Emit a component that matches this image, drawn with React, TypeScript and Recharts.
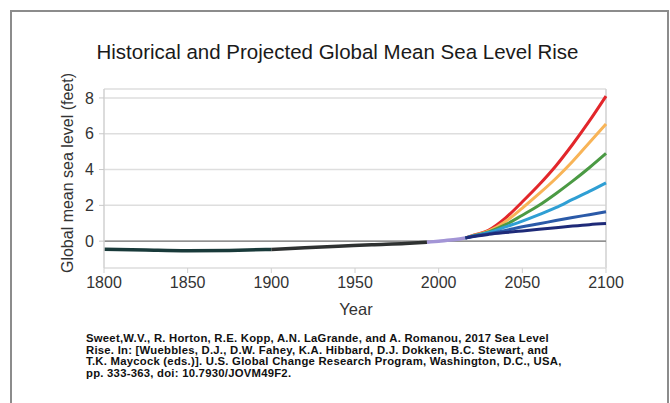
import { LineChart, Line, XAxis, YAxis, CartesianGrid, ReferenceLine } from "recharts"

// observed record, two shades as in the source figure
const earlyYears = [1800, 1825, 1850, 1875, 1900]
const earlyLevel = [-0.45, -0.5, -0.54, -0.52, -0.46]
const histYears = [1900, 1920, 1940, 1960, 1980, 1993]
const histLevel = [-0.46, -0.37, -0.29, -0.2, -0.13, -0.06]
const recentYears = [1993, 2000, 2010, 2016]
const recentLevel = [-0.06, 0.0, 0.09, 0.18]

// scenario projections (feet)
const projYears = [2016, 2020, 2030, 2040, 2050, 2060, 2070, 2080, 2090, 2100]
const extreme = [0.18, 0.3, 0.62, 1.3, 2.2, 3.15, 4.2, 5.4, 6.7, 8.1]
const high = [0.18, 0.29, 0.57, 1.1, 1.85, 2.65, 3.5, 4.45, 5.5, 6.55]
const intHigh = [0.18, 0.28, 0.52, 0.92, 1.45, 2.0, 2.65, 3.35, 4.1, 4.9]
const intermediate = [0.18, 0.27, 0.48, 0.8, 1.12, 1.48, 1.87, 2.33, 2.78, 3.26]
const intLow = [0.18, 0.26, 0.42, 0.6, 0.8, 0.97, 1.15, 1.32, 1.48, 1.64]
const low = [0.18, 0.25, 0.38, 0.48, 0.57, 0.66, 0.75, 0.84, 0.92, 0.98]

const xTicks = [1800, 1850, 1900, 1950, 2000, 2050, 2100]
const yTicks = [0, 2, 4, 6, 8]

const series = [
  { key: "early", years: earlyYears, values: earlyLevel, color: "#193a3a", width: 3.5 },
  { key: "hist", years: histYears, values: histLevel, color: "#2e3131", width: 3.5 },
  { key: "recent", years: recentYears, values: recentLevel, color: "#a395d6", width: 3.5 },
  { key: "extreme", years: projYears, values: extreme, color: "#e2262b", width: 3 },
  { key: "high", years: projYears, values: high, color: "#f8b457", width: 3 },
  { key: "intHigh", years: projYears, values: intHigh, color: "#4b9a44", width: 3 },
  { key: "intermediate", years: projYears, values: intermediate, color: "#2f9fd4", width: 3 },
  { key: "intLow", years: projYears, values: intLow, color: "#2b5aa8", width: 3 },
  { key: "low", years: projYears, values: low, color: "#1e2a78", width: 3 },
]

const rowsByYear = new Map<number, Record<string, number>>()
for (const s of series) {
  s.years.forEach((yr, i) => {
    const row = rowsByYear.get(yr) ?? { year: yr }
    row[s.key] = s.values[i]
    rowsByYear.set(yr, row)
  })
}
const chartData = [...rowsByYear.values()].sort((a, b) => a.year - b.year)

const citation = [
  "Sweet,W.V., R. Horton, R.E. Kopp, A.N. LaGrande, and A. Romanou, 2017 Sea Level",
  "Rise. In: [Wuebbles, D.J., D.W. Fahey, K.A. Hibbard, D.J. Dokken, B.C. Stewart, and",
  "T.K. Maycock (eds.)]. U.S. Global Change Research Program, Washington, D.C., USA,",
  "pp. 333-363, doi: 10.7930/JOVM49F2.",
]

const font = "'Liberation Sans', Arial, sans-serif"

export default function App() {
  return (
    <div style={{ position: "relative", width: 670, height: 403, background: "#fff", overflow: "hidden", fontFamily: font }}>
      <style>{"body{margin:0}"}</style>
      <div
        style={{
          position: "absolute",
          left: 10,
          top: 10,
          width: 655,
          height: 420,
          border: "2px solid #8c8c8c",
        }}
      />
      <div style={{ position: "absolute", left: 0, width: 675, top: 40, textAlign: "center", fontSize: 20.5, color: "#1a1a1a" }}>
        Historical and Projected Global Mean Sea Level Rise
      </div>
      <div
        style={{
          position: "absolute",
          left: 68,
          top: 173,
          transform: "translate(-50%, -50%) rotate(-90deg)",
          whiteSpace: "nowrap",
          fontSize: 16,
          color: "#333",
        }}
      >
        Global mean sea level (feet)
      </div>
      <div style={{ position: "absolute", left: 306, width: 100, top: 300, textAlign: "center", fontSize: 16.5, color: "#333" }}>
        Year
      </div>
      <div
        style={{
          position: "absolute",
          left: 86,
          top: 333,
          width: 570,
          fontSize: 11.3,
          lineHeight: "11.6px",
          letterSpacing: 0.25,
          fontWeight: "bold",
          color: "#111",
          whiteSpace: "nowrap",
        }}
      >
        {citation.map((line) => (
          <div key={line}>{line}</div>
        ))}
      </div>
      <div style={{ position: "absolute", left: 0, top: 0 }}>
        <LineChart width={670} height={403} data={chartData} margin={{ top: 89, right: 64, bottom: 105, left: 64 }}>
          <CartesianGrid vertical={false} stroke="#dedede" strokeWidth={1.5} />
          <XAxis
            dataKey="year"
            type="number"
            domain={[1800, 2100]}
            ticks={xTicks}
            height={30}
            axisLine={{ stroke: "#e4e4e4" }}
            tickLine={{ stroke: "#d0d0d0" }}
            tickSize={5}
            tickMargin={4}
            tick={{ fontSize: 16, fill: "#333", fontFamily: font }}
          />
          <YAxis
            type="number"
            domain={[-1.5, 8.5]}
            ticks={yTicks}
            width={40}
            allowDataOverflow
            axisLine={{ stroke: "#d0d0d0", strokeWidth: 1.5 }}
            tickLine={{ stroke: "#c8c8c8" }}
            tickSize={5}
            tickMargin={5}
            tick={{ fontSize: 16, fill: "#333", fontFamily: font }}
          />
          <ReferenceLine x={2100} stroke="#d0d0d0" strokeWidth={1.5} />
          <ReferenceLine y={0} stroke="#777" strokeWidth={1.2} />
          {series.map((s) => (
            <Line
              key={s.key}
              dataKey={s.key}
              type="monotone"
              stroke={s.color}
              strokeWidth={s.width}
              dot={false}
              connectNulls
              isAnimationActive={false}
            />
          ))}
        </LineChart>
      </div>
    </div>
  )
}
